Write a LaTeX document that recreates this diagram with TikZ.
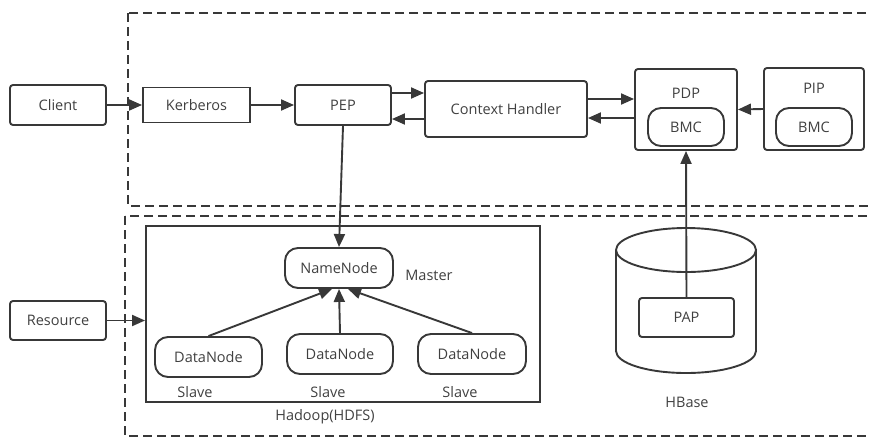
\documentclass[tikz,border=0pt]{standalone}
\usepackage{fontspec}
\setmainfont{Open Sans}
\usetikzlibrary{arrows.meta}
\definecolor{ink}{HTML}{383838}
\definecolor{txt}{HTML}{404040}

\begin{document}
\begin{tikzpicture}[x=1pt,y=-1pt,
  font=\fontsize{14.5}{17}\selectfont, text=txt,
  box/.style={draw=ink, line width=1.9pt, rounded corners=3pt, inner sep=0pt},
  pill/.style={draw=ink, line width=1.9pt, rounded corners=13pt, inner sep=0pt,
    minimum width=#1, minimum height=40pt},
  arr/.style={draw=ink, line width=1.9pt, -{Triangle[length=13pt,width=11pt]}},
  region/.style={draw=ink, line width=1.9pt, dash pattern=on 9pt off 5pt}]
\useasboundingbox (0,0) rectangle (870,437);
\clip (0,0) rectangle (870,437);

\draw[region] (128,13) rectangle (885,206);
\draw[region] (125,216) rectangle (885,436);

\node[box, minimum width=96pt, minimum height=40pt] (client) at (58,105) {Client};
\node[box, rounded corners=0pt, minimum width=107pt, minimum height=35pt] (kerb) at (196.5,105) {Kerberos};
\node[box, minimum width=96pt, minimum height=40pt] (pep) at (343,105) {PEP};
\node[box, minimum width=162pt, minimum height=56pt] (ch) at (506,109) {Context Handler};
\node[box, minimum width=102pt, minimum height=81pt] (pdp) at (686,109.5) {};
\node (pdplbl) at (686,93) {PDP};
\node[pill=76pt, minimum height=38pt] (bmc1) at (686,127) {BMC};
\node[box, minimum width=100pt, minimum height=82pt] (pip) at (814,109) {};
\node (piplbl) at (814,88) {PIP};
\node[pill=76pt, minimum height=38pt] (bmc2) at (814,127) {BMC};

\node[box, minimum width=96pt, minimum height=39pt] (res) at (58,320.5) {Resource};
\node[draw=ink, line width=1.9pt, inner sep=0pt, minimum width=394pt, minimum height=176pt] (hdfs) at (343,314) {};
\node[pill=108pt] (nn) at (339,268) {NameNode};
\node (master) at (429,275) {Master};
\node[pill=107pt] (dn1) at (208.5,357) {DataNode};
\node[pill=106pt] (dn2) at (340,354) {DataNode};
\node[pill=108pt] (dn3) at (472,354) {DataNode};
\node (slave1) at (195,392) {Slave};
\node (slave2) at (328,392) {Slave};
\node (slave3) at (460,392) {Slave};
\node (hdfslbl) at (325,417) {Hadoop(HDFS)};

\draw[ink, line width=1.9pt] (686,250) ellipse [x radius=70pt, y radius=22pt];
\draw[ink, line width=1.9pt] (616,250) -- (616,351)
  arc[start angle=180, end angle=360, x radius=70pt, y radius=22pt] -- (756,250);
\node[box, minimum width=95pt, minimum height=39pt] (pap) at (686.5,317.5) {PAP};
\node (hbaselbl) at (687,402) {HBase};

\draw[arr] (client.east) -- (kerb.west);
\draw[arr] (kerb.east) -- (pep.west);
\draw[arr] ([yshift=12pt]pep.east) -- ([yshift=12pt]pep.east -| ch.west);
\draw[arr] ([yshift=-10pt]ch.west) -- ([yshift=-10pt]ch.west -| pep.east);
\draw[arr] ([yshift=10pt]ch.east) -- ([yshift=10pt]ch.east -| pdp.west);
\draw[arr] ([yshift=-8.5pt]pdp.west) -- ([yshift=-8.5pt]pdp.west -| ch.east);
\draw[arr] (pip.west) -- (pdp.east);
\draw[arr] (pap.north) -- (pdp.south);
\draw[arr] (pep.south) -- (nn.north);
\draw[arr] (dn1.north) -- ([xshift=-7pt]nn.south);
\draw[arr] (dn2.north) -- (nn.south);
\draw[arr] (dn3.north) -- ([xshift=9pt]nn.south);
\draw[arr] (res.east) -- (res.east -| hdfs.west);
\end{tikzpicture}
\end{document}
